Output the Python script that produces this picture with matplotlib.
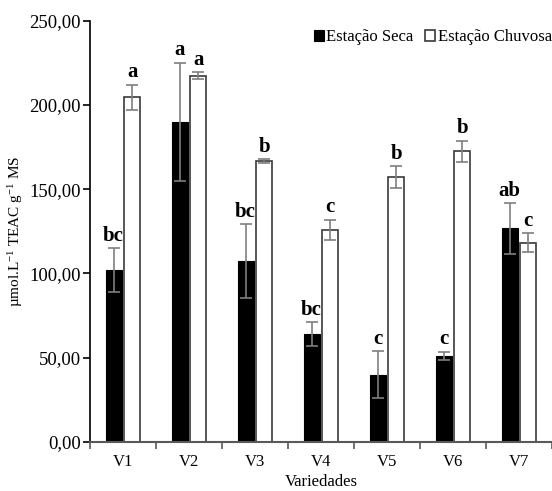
import matplotlib
matplotlib.use("Agg")
import matplotlib.pyplot as plt
import numpy as np
from matplotlib.ticker import FuncFormatter

plt.rcParams['font.family'] = ['Liberation Serif', 'DejaVu Serif']
plt.rcParams['mathtext.fontset'] = 'custom'
plt.rcParams['mathtext.rm'] = 'Liberation Serif'
plt.rcParams['mathtext.it'] = 'Liberation Serif:italic'
plt.rcParams['mathtext.bf'] = 'Liberation Serif:bold'

categories = ['V1', 'V2', 'V3', 'V4', 'V5', 'V6', 'V7']
seca = [102.0, 190.0, 107.3, 63.8, 39.8, 51.1, 126.7]
seca_err = [13.0, 35.0, 21.7, 7.0, 14.0, 2.4, 15.0]
chuvosa = [204.5, 217.3, 166.7, 125.7, 157.2, 172.4, 118.2]
chuvosa_err = [7.5, 2.0, 1.0, 6.0, 6.3, 6.3, 5.5]
letters_seca = ['bc', 'a', 'bc', 'bc', 'c', 'c', 'ab']
letters_chuvosa = ['a', 'a', 'b', 'c', 'b', 'b', 'c']

fig = plt.figure(figsize=(5.52, 4.91), dpi=100)
ax = fig.add_axes([0.163, 0.1004, 0.837, 0.8574])

x = np.arange(len(categories))
w = 0.245
off = 0.142
err_kw = dict(ecolor='#7f7f7f', elinewidth=1.2, capsize=4, capthick=1.2)
ax.bar(x - off, seca, w, color='black', edgecolor='black', linewidth=0.8,
       yerr=seca_err, error_kw=err_kw, label='Estação Seca', zorder=2)
ax.bar(x + off, chuvosa, w, color='white', edgecolor='#3a3a3a', linewidth=1.2,
       yerr=chuvosa_err, error_kw=err_kw, label='Estação Chuvosa', zorder=2)

# significance letters above each error bar
for i in range(len(categories)):
    ax.text(x[i] - off, seca[i] + seca_err[i] + 1.5, letters_seca[i],
            ha='center', va='bottom', fontsize=15, fontweight='bold')
    ax.text(x[i] + off, chuvosa[i] + chuvosa_err[i] + 1.5, letters_chuvosa[i],
            ha='center', va='bottom', fontsize=15, fontweight='bold')

ax.set_xlim(-0.5, len(categories) - 0.5)
ax.set_ylim(0, 250)
ax.set_yticks(np.arange(0, 251, 50))
ax.yaxis.set_major_formatter(FuncFormatter(lambda v, p: f"{v:.2f}".replace('.', ',')))
ax.set_xticks(x)
ax.set_xticklabels(categories)
ax.set_xticks(np.arange(-0.5, len(categories), 1.0), minor=True)
ax.tick_params(axis='x', which='major', length=0, labelsize=12, pad=8.7)
ax.tick_params(axis='x', which='minor', length=5, direction='out', color='#595959', width=1.2)
ax.tick_params(axis='y', length=5, direction='out', labelsize=13.5, width=1.2, pad=1.5)

for s in ['top', 'right']:
    ax.spines[s].set_visible(False)
ax.spines['left'].set_linewidth(1.2)
ax.spines['bottom'].set_color('#595959')
ax.spines['bottom'].set_linewidth(1.5)

ax.set_ylabel(r'µmol.L$^{-1}$ TEAC g$^{-1}$ MS', fontsize=11, labelpad=3)
ax.set_xlabel('Variedades', fontsize=12, labelpad=3)

ax.legend(loc='upper right', bbox_to_anchor=(1.0, 0.98), ncol=2, frameon=False,
          fontsize=12, handlelength=0.6, handleheight=0.6, handletextpad=0.15,
          columnspacing=0.7, borderaxespad=0.0, borderpad=0.0)

fig.savefig('out.png', dpi=100)
